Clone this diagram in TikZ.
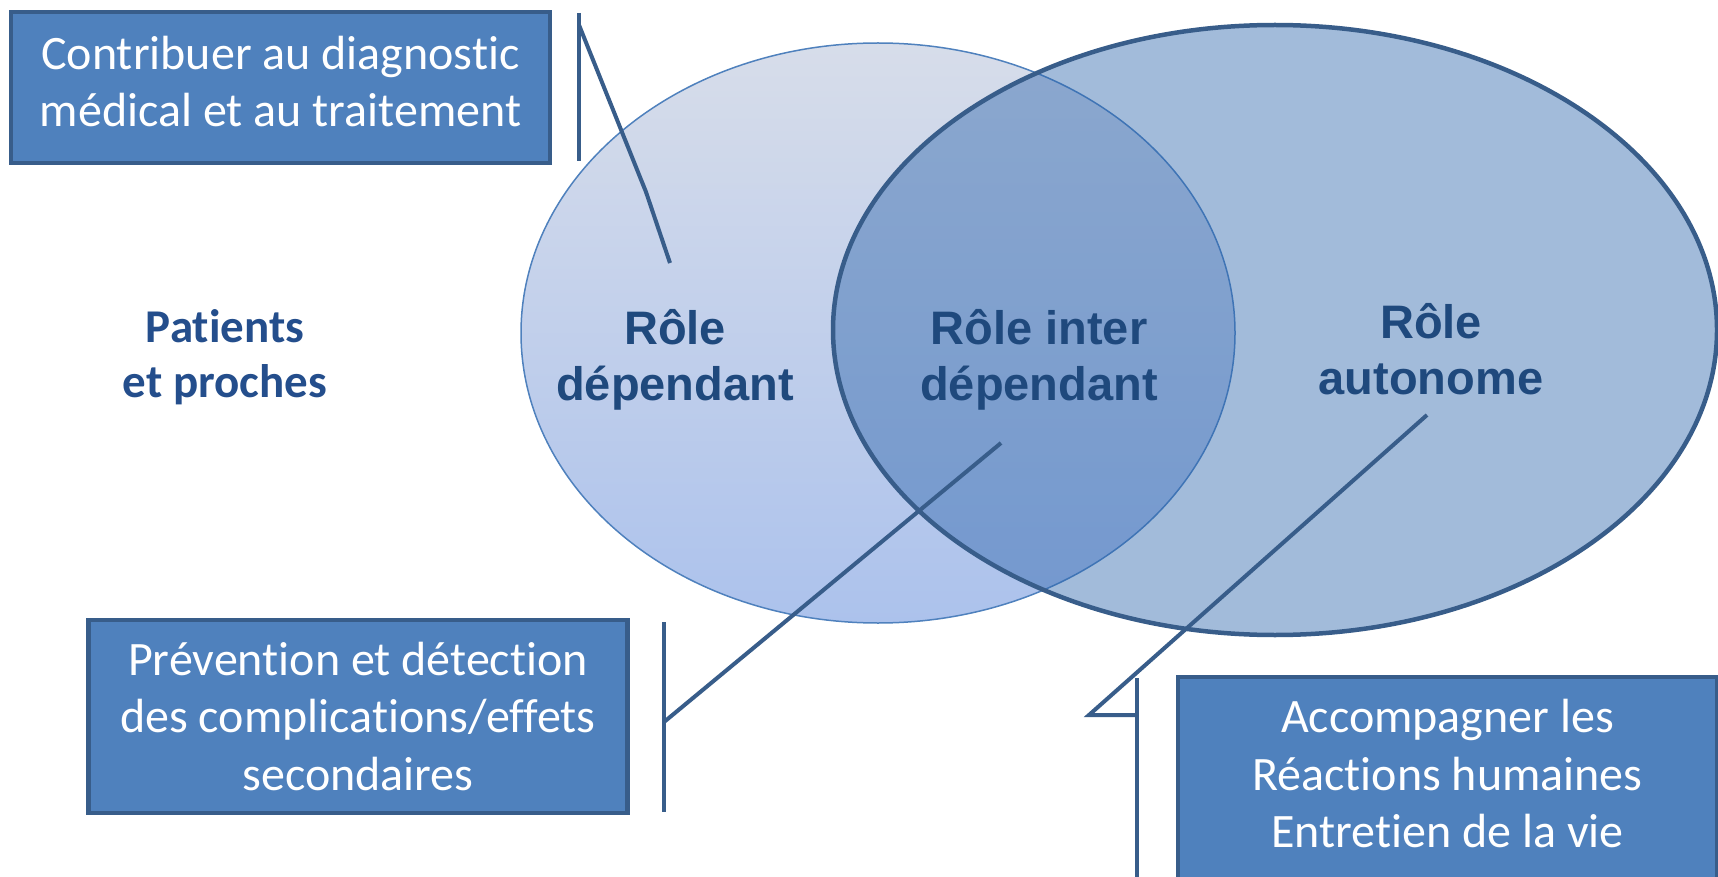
\documentclass[tikz,border=0pt]{standalone}
\usepackage{fontspec}
\setmainfont{Carlito}[Ligatures=NoCommon]
\newfontfamily\arialfont{Liberation Sans}
\usetikzlibrary{shapes.geometric}
\definecolor{boxfill}{RGB}{79,129,189}
\definecolor{boxline}{RGB}{56,93,138}
\definecolor{roletext}{RGB}{31,73,125}
\definecolor{patienttext}{RGB}{36,78,140}
\definecolor{deptop}{RGB}{215,221,234}
\definecolor{depbot}{RGB}{172,194,236}
\definecolor{depline}{RGB}{79,129,189}
\definecolor{autofill}{RGB}{44,100,171}
\tikzstyle{stylebox} = [rectangle, minimum width=539pt, inner sep=0pt, text centered, align=center, draw=boxline, line width=4.5pt, fill=boxfill, text=white, font=\fontsize{48}{57.5}\selectfont]
\tikzstyle{stylerole} = [align=center, text=roletext, font=\arialfont\bfseries\fontsize{47}{55.5}\selectfont]
\tikzstyle{callout} = [draw=boxline, line width=4pt]

\begin{document}
\begin{tikzpicture}[x=1pt, y=-1pt]
\useasboundingbox (0,0) rectangle (1718,877);
% ellipses
\node (dep) [ellipse, minimum width=714pt, minimum height=580pt, inner sep=0pt, top color=deptop, bottom color=depbot, draw=depline, line width=1.5pt] at (878,333) {};
\node (auto) [ellipse, minimum width=884pt, minimum height=610pt, inner sep=0pt, fill=autofill, fill opacity=0.44, draw=boxline, line width=4.5pt] at (1275,330) {};

\node (patients) [stylerole, text=patienttext, font=\bfseries\fontsize{47}{55}\selectfont] at (225,357) {Patients\\et proches};
\node (roledep) [stylerole] at (675,360) {Rôle\\dépendant};
\node (roleinter) [stylerole] at (1039,360) {Rôle inter\\dépendant};
\node (roleauto) [stylerole] at (1431,349) {Rôle\\autonome};

% boxes
\node (diag) [stylebox, minimum height=151pt, text depth=12pt] at (280.5,87.5) {Contribuer au diagnostic\\médical et au traitement};
\node (prev) [stylebox, minimum height=193pt] at (358,716.5) {Prévention et détection\\des complications/effets\\secondaires};
\node (accomp) [stylebox, minimum height=220pt, text depth=27pt] at (1447.5,787) {Accompagner les\\Réactions humaines\\Entretien de la vie};

% callouts
\coordinate (bar1t) at (579,13);
\coordinate (bar1b) at (579,161);
\coordinate (c1s) at (579,25);
\coordinate (c1k) at (646,192);
\coordinate (c1e) at (670,263);
\draw[callout] (bar1t) -- (bar1b);
\draw[callout] (c1s) -- (c1k) -- (c1e);

\coordinate (bar2t) at (664,622);
\coordinate (bar2b) at (664,812);
\coordinate (c2s) at (664,722);
\coordinate (c2e) at (1001,443);
\draw[callout] (bar2t) -- (bar2b);
\draw[callout] (c2s) -- (c2e);

\coordinate (bar3t) at (1137,678);
\coordinate (bar3b) at (1137,890);
\coordinate (c3s) at (1137,715);
\coordinate (c3k) at (1089,715);
\coordinate (c3e) at (1427,415);
\draw[callout] (bar3t) -- (bar3b);
\draw[callout] (c3s) -- (c3k) -- (c3e);

\end{tikzpicture}
\end{document}
